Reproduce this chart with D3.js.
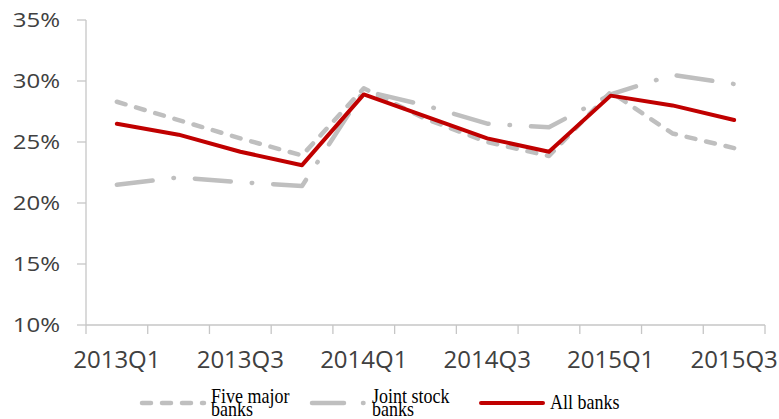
<!DOCTYPE html>
<html><head><meta charset="utf-8">
<script src="https://cdn.jsdelivr.net/npm/d3@7"></script>
<style>
html,body{margin:0;padding:0;background:#fff;}
svg{display:block;}
</style></head>
<body>
<svg id="chart" width="779" height="419"></svg>
<script>
const categories = ["2013Q1","2013Q2","2013Q3","2013Q4","2014Q1","2014Q2","2014Q3","2014Q4","2015Q1","2015Q2","2015Q3"];
const fiveMajor  = [28.3, 26.8, 25.3, 23.9, 29.4, 26.9, 25.0, 23.85, 29.1, 25.7, 24.5];
const jointStock = [21.5, 22.1, 21.7, 21.4, 29.2, 28.0, 26.5, 26.2, 28.9, 30.5, 29.75];
const allBanks   = [26.5, 25.6, 24.2, 23.1, 28.9, 27.1, 25.3, 24.2, 28.8, 28.0, 26.8];
const yTicks = [10, 15, 20, 25, 30, 35];
const xLabels = ["2013Q1","2013Q3","2014Q1","2014Q3","2015Q1","2015Q3"];
const seriesNames = ["Five major banks", "Joint stock banks", "All banks"];

const svg = d3.select("#chart");
const x = d3.scaleBand().domain(categories).range([86, 765]);
const y = d3.scaleLinear().domain([10, 35]).range([325, 20]);
const axisCol = "#c6c6c6";
const textCol = "#404040";

// y axis
svg.append("line").attr("x1", x.range()[0]).attr("x2", x.range()[0])
  .attr("y1", y(35)).attr("y2", y(10)).attr("stroke", axisCol).attr("stroke-width", 1.3);
yTicks.forEach(t => {
  svg.append("line").attr("x1", x.range()[0] - 9).attr("x2", x.range()[0])
    .attr("y1", y(t)).attr("y2", y(t)).attr("stroke", axisCol).attr("stroke-width", 1.3);
  svg.append("text").attr("transform", `translate(60,${y(t) + 7}) scale(1.2,1)`)
    .attr("text-anchor", "end").attr("font-family", "Open Sans").attr("font-size", 20)
    .attr("fill", textCol).text(t + "%");
});

// x axis
svg.append("line").attr("x1", x.range()[0]).attr("x2", x.range()[1])
  .attr("y1", y(10)).attr("y2", y(10)).attr("stroke", axisCol).attr("stroke-width", 1.3);
const tickPos = categories.map(c => x(c)).concat([x.range()[1]]);
tickPos.forEach(p => {
  svg.append("line").attr("x1", p).attr("x2", p).attr("y1", y(10)).attr("y2", y(10) + 9)
    .attr("stroke", axisCol).attr("stroke-width", 1.3);
});
xLabels.forEach(l => {
  svg.append("text").attr("x", x(l) + x.bandwidth() / 2).attr("y", 368)
    .attr("text-anchor", "middle").attr("font-family", "Open Sans").attr("font-size", 24)
    .attr("fill", textCol).text(l);
});

const line = d3.line().x((d, i) => x(categories[i]) + x.bandwidth() / 2).y(d => y(d));
const grey = "#bfbfbf", red = "#c00000";
const styles = [
  {data: fiveMajor, color: grey, dash: "9,11", width: 4.5},
  {data: jointStock, color: grey, dash: "36,21,0.5,21", width: 4.5},
  {data: allBanks, color: red, dash: null, width: 4}
];
styles.forEach(s => {
  svg.append("path").datum(s.data).attr("d", line).attr("fill", "none")
    .attr("stroke", s.color).attr("stroke-width", s.width)
    .attr("stroke-linecap", "round").attr("stroke-linejoin", "round")
    .attr("stroke-dasharray", s.dash);
});

// legend
const legend = [
  {x1: 142, x2: 204, tx: 211, lines: ["Five major", "banks"], style: styles[0]},
  {x1: 312, x2: 366, tx: 372, lines: ["Joint stock", "banks"], style: styles[1]},
  {x1: 481, x2: 543, tx: 550, lines: ["All banks"], style: styles[2]}
];
legend.forEach((lg, i) => {
  svg.append("line").attr("x1", lg.x1).attr("x2", lg.x2).attr("y1", 403).attr("y2", 403)
    .attr("stroke", lg.style.color).attr("stroke-width", lg.style.width)
    .attr("stroke-linecap", "round").attr("stroke-dasharray", i === 1 ? "32,19,0.5,20" : lg.style.dash);
  const g = svg.append("g").attr("transform", `translate(${lg.tx},0)`);
  if (lg.lines.length === 1) {
    g.append("text").attr("transform", "translate(0,409) scale(1,1.12)")
      .attr("font-family", "Liberation Serif").attr("font-size", 18).attr("fill", "#000").text(lg.lines[0]);
  } else {
    g.append("text").attr("transform", "translate(0,403) scale(1,1.12)")
      .attr("font-family", "Liberation Serif").attr("font-size", 18).attr("fill", "#000").text(lg.lines[0]);
    g.append("text").attr("transform", "translate(0,416) scale(1,1.12)")
      .attr("font-family", "Liberation Serif").attr("font-size", 18).attr("fill", "#000").text(lg.lines[1]);
  }
});
</script>
</body></html>
